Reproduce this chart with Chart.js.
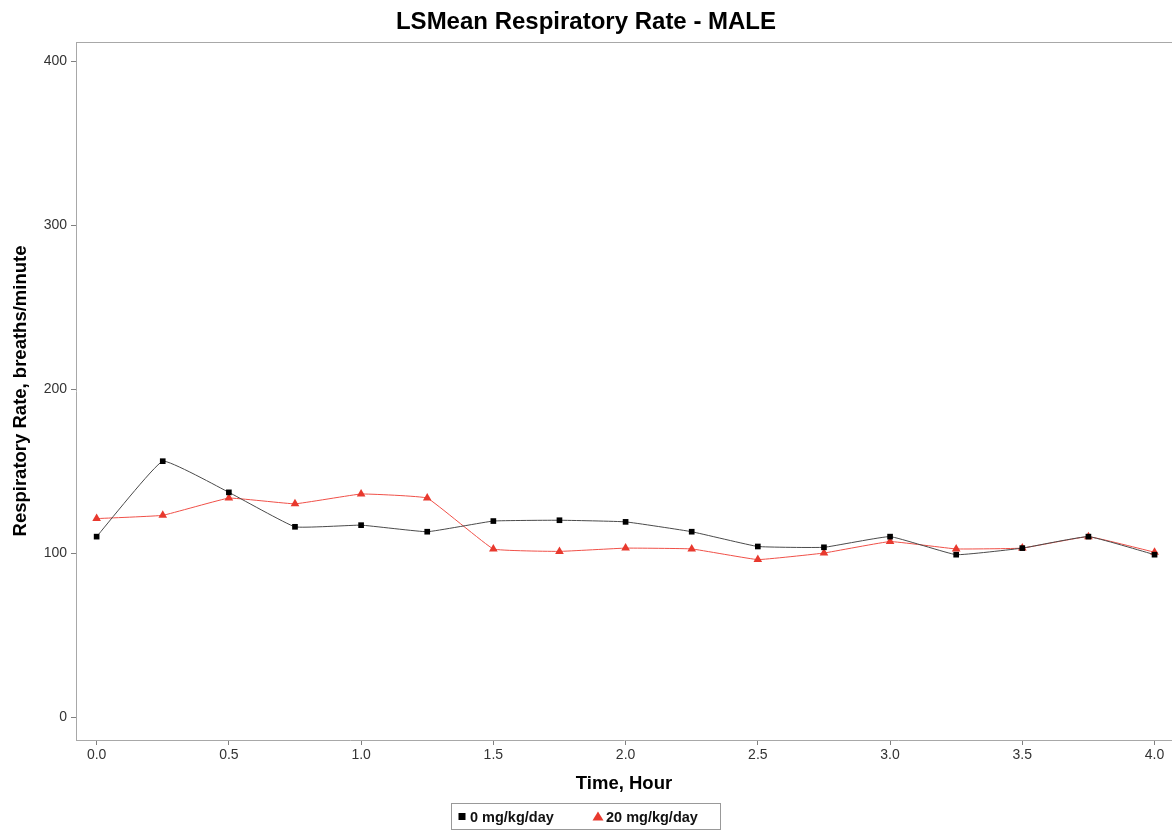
<!DOCTYPE html>
<html>
<head>
<meta charset="utf-8">
<script src="https://cdn.jsdelivr.net/npm/chart.js@4/dist/chart.umd.min.js"></script>
<style>
  html, body { margin: 0; padding: 0; background: #ffffff; }
  #wrap { width: 1172px; height: 833px; }
</style>
</head>
<body>
<div id="wrap"><canvas id="c" width="1172" height="833"></canvas></div>
<script>
const chartTitle = 'LSMean Respiratory Rate - MALE';
const xTitle = 'Time, Hour';
const yTitle = 'Respiratory Rate, breaths/minute';
const timeHours = [0, 0.25, 0.5, 0.75, 1.0, 1.25, 1.5, 1.75, 2.0, 2.25, 2.5, 2.75, 3.0, 3.25, 3.5, 3.75, 4.0];
const seriesLabels = ['0 mg/kg/day', '20 mg/kg/day'];
const dose0 = [110, 156, 137, 116, 117, 113, 119.5, 120, 119, 113, 104, 103.5, 110, 99, 103, 110, 99];
const dose20 = [121, 123, 133.5, 130, 136, 133.5, 102.5, 101, 103, 102.5, 96, 100, 107, 102.5, 103, 110, 100.5];
const xTickValues = [0, 0.5, 1.0, 1.5, 2.0, 2.5, 3.0, 3.5, 4.0];
const yTickValues = [0, 100, 200, 300, 400];

const FONT = "'Liberation Sans', Arial, Helvetica, sans-serif";

const framePlugin = {
  id: 'frameTop',
  afterDraw(chart) {
    const {ctx, chartArea} = chart;
    ctx.save();
    ctx.strokeStyle = '#a8a8a8';
    ctx.lineWidth = 1;
    ctx.beginPath();
    ctx.moveTo(chartArea.left, Math.round(chartArea.top) + 0.5);
    ctx.lineTo(chart.width, Math.round(chartArea.top) + 0.5);
    ctx.stroke();
    ctx.restore();
  }
};

const legendPlugin = {
  id: 'boxLegend',
  afterDraw(chart) {
    const {ctx} = chart;
    const ds = chart.data.datasets;
    ctx.save();
    ctx.font = "bold 14.5px " + FONT;
    ctx.textBaseline = 'middle';
    const boxX = 451.5, boxY = 803.5, boxW = 269, boxH = 26;
    ctx.strokeStyle = '#999999';
    ctx.lineWidth = 1;
    ctx.strokeRect(boxX, boxY, boxW, boxH);
    const cy = boxY + boxH / 2;
    const starts = [458, 594];
    ds.forEach((d, i) => {
      const mx = starts[i] + 4;
      ctx.fillStyle = d.pointBackgroundColor;
      if (d.pointStyle === 'rect') {
        ctx.fillRect(mx - 3.5, cy - 3.5, 7, 7);
      } else {
        ctx.beginPath();
        ctx.moveTo(mx, cy - 5);
        ctx.lineTo(mx + 5.5, cy + 4);
        ctx.lineTo(mx - 5.5, cy + 4);
        ctx.closePath();
        ctx.fill();
      }
      ctx.fillStyle = '#111111';
      ctx.textAlign = 'left';
      ctx.fillText(d.label, starts[i] + 12, cy + 1);
    });
    ctx.restore();
  }
};

new Chart(document.getElementById('c'), {
  type: 'line',
  data: {
    datasets: [
      {
        label: seriesLabels[0],
        data: timeHours.map((t, i) => ({x: t, y: dose0[i]})),
        borderColor: '#4a4a4a',
        borderWidth: 1,
        pointStyle: 'rect',
        pointRadius: 4,
        pointBackgroundColor: '#000000',
        pointBorderColor: '#000000',
        pointBorderWidth: 0,
        tension: 0.1
      },
      {
        label: seriesLabels[1],
        data: timeHours.map((t, i) => ({x: t, y: dose20[i]})),
        borderColor: '#f05048',
        borderWidth: 1,
        pointStyle: 'triangle',
        pointRadius: 5,
        pointBackgroundColor: '#e8392e',
        pointBorderColor: '#e8392e',
        pointBorderWidth: 0,
        tension: 0.08
      }
    ]
  },
  options: {
    responsive: false,
    animation: false,
    devicePixelRatio: 1,
    layout: { autoPadding: false, padding: { left: 0, right: 0, top: 0, bottom: 33 } },
    plugins: {
      legend: { display: false },
      tooltip: { enabled: false },
      title: {
        display: true,
        text: chartTitle,
        color: '#000000',
        font: { family: FONT, size: 24, weight: 'bold', lineHeight: 1.2 },
        padding: { top: 7.6, bottom: 5.6 }
      }
    },
    scales: {
      x: {
        type: 'linear',
        min: -0.078,
        max: 4.066,
        afterBuildTicks: (s) => { s.ticks = xTickValues.map(v => ({value: v})); },
        afterFit: (s) => { s.height = 60; s.paddingLeft = 0; s.paddingRight = 0; },
        ticks: {
          autoSkip: false,
          maxRotation: 0,
          color: '#333333',
          padding: 2,
          font: { family: FONT, size: 14 },
          callback: (v) => Number(v).toFixed(1)
        },
        grid: { display: true, drawOnChartArea: false, drawTicks: true, tickLength: 5, color: '#808080' },
        border: { display: true, color: '#a8a8a8', width: 1 },
        title: {
          display: true,
          text: xTitle,
          color: '#000000',
          font: { family: FONT, size: 18.5, weight: 'bold', lineHeight: 1.2 },
          padding: { top: 0, bottom: 4.9 }
        }
      },
      y: {
        type: 'linear',
        min: -14,
        max: 411.6,
        afterBuildTicks: (s) => { s.ticks = yTickValues.map(v => ({value: v})); },
        afterFit: (s) => { s.width = 76; s.paddingTop = 0; s.paddingBottom = 0; },
        ticks: {
          color: '#333333',
          padding: 4,
          font: { family: FONT, size: 14 }
        },
        grid: { display: true, drawOnChartArea: false, drawTicks: true, tickLength: 5, color: '#808080' },
        border: { display: true, color: '#a8a8a8', width: 1 },
        title: {
          display: true,
          text: yTitle,
          color: '#000000',
          font: { family: FONT, size: 18.5, weight: 'bold', lineHeight: 1.2 },
          padding: { top: 10, bottom: 0 }
        }
      }
    }
  },
  plugins: [framePlugin, legendPlugin]
});
</script>
</body>
</html>
